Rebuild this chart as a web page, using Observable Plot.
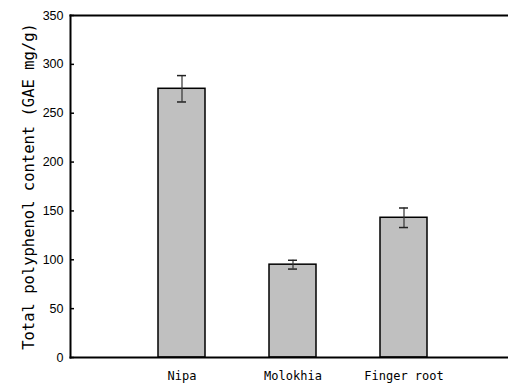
<!DOCTYPE html>
<html>
<head>
<meta charset="utf-8">
<script src="https://cdn.jsdelivr.net/npm/d3@7"></script>
<script src="https://cdn.jsdelivr.net/npm/@observablehq/plot@0.6"></script>
<style>
  html, body { margin: 0; padding: 0; background: #fff; }
  #chart svg { display: block; }
</style>
</head>
<body>
<div id="chart"></div>
<script>
// Total polyphenol content of three plant extracts (mean ± SD)
const categories = ["Nipa", "Molokhia", "Finger root"];
const means = [275, 95, 143];
const errors = [13.5, 4.5, 10];
const yTicks = [0, 50, 100, 150, 200, 250, 300, 350];

const data = categories.map((category, i) => ({
  category,
  mean: means[i],
  lo: means[i] - errors[i],
  hi: means[i] + errors[i]
}));

const chart = Plot.plot({
  width: 508,
  height: 386,
  marginTop: 15,
  marginBottom: 29,
  marginLeft: 70,
  marginRight: 0,
  style: { background: "white", color: "black", fontFamily: "'Liberation Sans', sans-serif", fontSize: "12px" },
  x: { domain: categories, range: [124.75, 459.25], paddingInner: 0.578, paddingOuter: 0.289, align: 0.5 },
  y: { domain: [0, 350] },
  marks: [
    Plot.barY(data, { x: "category", y: "mean", fill: "#c0c0c0", stroke: "black", strokeWidth: 1.5 }),
    Plot.ruleX(data, { x: "category", y1: "lo", y2: "hi", stroke: "#333", strokeWidth: 1.2 }),
    Plot.tickY(data, { x: "category", y: "hi", insetLeft: 19, insetRight: 19, stroke: "#222", strokeWidth: 1.5 }),
    Plot.tickY(data, { x: "category", y: "lo", insetLeft: 19, insetRight: 19, stroke: "#222", strokeWidth: 1.5 }),
    Plot.axisY({
      ticks: yTicks, tickSize: 0, tickPadding: 7, tickFormat: d => d,
      label: "Total polyphenol content (GAE mg/g)", labelAnchor: "center", labelArrow: "none", labelOffset: 48,
      fontSize: 12.5
    }),
    // short inward-pointing tick marks on the y axis
    Plot.axisY({ ticks: yTicks, tickSize: 4, dx: 4, tickFormat: () => "", label: null, strokeWidth: 1.5 }),
    Plot.axisX({ tickSize: 0, tickPadding: 14, label: null, fontFamily: "'DejaVu Sans Mono', monospace", fontSize: 12 }),
    Plot.frame({ anchor: "left", strokeWidth: 2 }),
    Plot.frame({ anchor: "top", strokeWidth: 2 }),
    Plot.frame({ anchor: "bottom", strokeWidth: 2 })
  ]
});

// enlarge the rotated y-axis title
chart.querySelectorAll("[aria-label='y-axis label'] text, [aria-label='y-axis label']").forEach(el => {
  el.setAttribute("font-size", "15.5");
  el.setAttribute("font-family", "'DejaVu Sans Mono', monospace");
});

document.getElementById("chart").appendChild(chart);
</script>
</body>
</html>
